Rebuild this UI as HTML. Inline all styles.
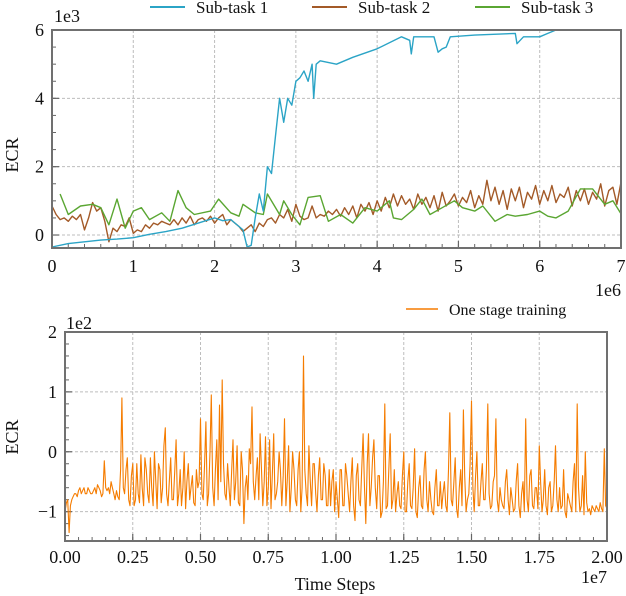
<!DOCTYPE html>
<html><head><meta charset="utf-8"><style>
html,body{margin:0;padding:0;background:#fff;}
svg{display:block;font-family:"Liberation Serif","DejaVu Serif",serif;}
</style></head><body>
<svg id="c" width="626" height="596" viewBox="0 0 626 596" font-family="Liberation Serif, DejaVu Serif, serif"></svg>
<script>
// ---- Top chart data (x in 1e6, y in 1e3) ----
const t1X=[0,0.2,0.4,0.6,0.8,1.0,1.2,1.4,1.6,1.8,2.0,2.1,2.2,2.3,2.35,2.4,2.45,2.5,2.55,2.6,2.65,2.7,2.75,2.8,2.85,2.9,2.95,3.0,3.05,3.1,3.15,3.2,3.22,3.25,3.3,3.5,3.7,4.0,4.3,4.4,4.42,4.45,4.7,4.75,4.8,4.85,4.9,5.2,5.7,5.72,5.8,6.0,6.1,6.2];
const t1Y=[-0.35,-0.25,-0.2,-0.15,-0.12,-0.08,0.02,0.1,0.2,0.35,0.5,0.42,0.45,0.25,0.15,-0.35,-0.3,0.5,1.2,0.7,2.0,1.8,2.9,4.0,3.3,4.0,3.8,4.5,4.6,4.8,4.5,5.0,4.0,5.0,5.1,5.0,5.2,5.45,5.8,5.7,5.3,5.8,5.8,5.35,5.45,5.5,5.8,5.85,5.9,5.6,5.8,5.8,5.9,6.0];
const t2Step=0.05;
const t2Y=[0.85,0.6,0.45,0.5,0.4,0.55,0.45,0.6,0.15,0.5,0.95,0.7,0.8,0.4,-0.2,0.2,0.1,0.3,0.25,0.5,
0.05,0.15,0.1,0.3,0.2,0.35,0.3,0.4,0.35,0.3,0.45,0.3,0.5,0.35,0.55,0.3,0.45,0.5,0.4,0.55,
0.35,0.5,0.6,0.3,0.45,0.35,0.25,0.1,0.2,0.3,0.1,0.35,0.25,0.45,0.5,0.35,0.6,0.5,0.75,0.4,
0.9,0.55,0.45,0.5,0.85,0.5,0.6,0.55,0.7,0.6,0.75,0.55,0.8,0.6,0.85,0.5,0.9,0.7,0.95,0.6,
1.0,0.7,1.1,0.8,1.2,0.85,1.15,0.9,1.05,0.75,1.2,0.9,1.1,0.8,1.15,0.7,1.25,0.85,1.0,1.2,
0.85,1.1,0.95,1.3,0.8,1.15,0.9,1.6,1.0,1.4,0.9,1.3,0.75,1.35,1.0,1.4,0.8,1.25,1.05,1.45,
0.9,1.3,1.0,1.45,0.95,1.2,1.1,1.4,0.85,1.3,1.0,1.35,0.9,1.25,1.05,1.5,0.85,1.3,1.4,0.9,1.55];
const t3X=[0.1,0.2,0.35,0.5,0.6,0.7,0.8,0.9,1.0,1.1,1.2,1.35,1.45,1.55,1.65,1.75,1.95,2.05,2.2,2.3,2.35,2.5,2.6,2.65,2.8,2.85,2.95,3.05,3.15,3.3,3.4,3.55,3.7,3.85,4.0,4.15,4.2,4.3,4.45,4.55,4.65,4.8,4.95,5.05,5.2,5.3,5.45,5.6,5.7,5.85,6.0,6.1,6.2,6.35,6.5,6.65,6.8,6.9,7.0];
const t3Y=[1.2,0.6,0.85,0.9,0.8,0.3,1.05,0.2,0.7,0.8,0.45,0.65,0.4,1.3,0.8,0.6,0.7,1.05,0.65,0.55,0.9,0.65,0.6,1.2,0.6,1.0,0.6,0.3,1.1,1.15,0.4,0.6,0.35,0.8,0.7,1.0,0.5,0.45,0.75,1.05,0.6,0.8,1.0,0.8,0.7,0.85,0.4,0.6,0.55,0.6,0.7,0.55,0.5,0.7,1.35,1.35,0.9,1.0,0.62];
const topXTicks=[0,1,2,3,4,5,6,7];
const topYTicks=[0,2,4,6];
// ---- Bottom chart data (x in 1e7, y in 1e2) ----
const oStep=0.01;
// values at each 0.01e7 step
const oY=[-1.0,-0.8,-0.9,-0.75,-0.7,-0.65,-0.7,-0.6,-0.7,-0.65,
-0.7,-0.6,-0.55,-0.65,-0.7,-0.6,-0.6,-0.5,-0.7,-0.65,
-0.8,0.9,-0.7,-0.1,-0.9,-0.2,-0.8,-0.7,-0.05,-0.9,
-0.3,-0.85,-0.6,0.0,-0.95,-0.3,-0.6,0.4,-0.9,-0.1,
-0.8,0.2,-0.7,-0.9,0.0,-0.5,-0.8,-0.4,-0.9,-0.6,
0.55,-0.8,0.5,-0.7,0.95,-0.9,0.2,0.78,1.2,-0.7,
-0.2,-0.9,0.2,-0.5,-0.85,0.0,-1.2,-0.4,0.05,0.75,
-0.8,-0.1,0.3,-0.9,0.25,-0.6,-0.95,0.3,-0.7,0.0,
-0.9,0.55,-0.5,-1.0,0.0,-0.8,-0.3,-1.0,1.6,-0.7,
0.1,-0.9,-0.2,-1.0,-0.1,-0.8,-0.4,-0.9,-0.9,-0.3,
-0.5,-1.1,-0.3,-0.9,-0.4,-1.0,-0.1,-1.15,-0.2,-0.9,
0.3,-1.2,0.3,-0.6,0.2,-0.95,-0.4,-1.0,0.8,-0.9,
0.3,-0.8,-1.0,-0.5,-0.95,0.0,-1.0,-0.2,-0.95,0.05,
-1.1,-0.4,-0.95,0.0,-1.0,-0.8,-1.05,-0.3,-0.9,-0.95,
-0.5,-1.0,0.65,-0.9,-0.1,-1.1,-0.3,0.7,-1.0,-0.7,
0.85,-1.0,0.0,-0.9,-0.2,-0.8,0.8,-0.95,-0.5,0.55,
-1.0,-0.8,-0.95,-0.3,-1.05,-0.8,-0.95,-0.2,-1.1,-0.5,
0.55,-1.0,-0.3,-0.95,-0.6,0.1,-1.0,-0.3,-1.05,-0.5,
-0.9,0.1,-1.0,-0.95,-0.3,-1.1,-0.8,-1.0,-0.2,0.8,
-1.0,-0.4,0.0,-1.0,-1.05,-0.95,-0.9,-1.0,-0.95,0.05,-0.95];
// values at the half steps (0.005e7 + i*0.01e7)
const oYMid=[-0.85,-1.35,-0.8,-0.7,-0.75,-0.6,-0.65,-0.7,-0.6,-0.7,
-0.65,-0.7,-0.6,-0.75,-0.15,-0.65,-0.7,-0.6,-0.8,-0.75,
-0.3,-0.6,-0.3,-0.8,-0.4,-0.9,-0.2,-0.85,-0.6,-0.1,
-0.7,-0.1,-0.9,-0.5,-0.2,-0.85,0.1,-0.7,-0.5,-0.8,
-0.3,-0.9,-0.3,-0.6,-0.95,-0.2,-0.6,-0.85,-0.3,-0.5,
-0.7,-0.2,-0.9,0.0,-0.6,-0.3,-0.8,-0.5,-0.2,-0.8,
-0.6,-0.3,-0.8,0.1,-0.9,-0.3,-0.6,-0.8,-0.2,-0.5,
-0.4,-0.8,-0.3,-0.5,-0.9,0.2,-0.4,-0.8,-0.5,-0.3,
-0.4,-0.9,0.1,-0.6,-0.3,-0.9,0.0,-0.6,-0.3,-0.9,
-0.5,-0.2,-0.7,-0.4,-0.8,-0.2,-0.9,-0.3,-0.5,-1.0,
-0.8,-0.3,-0.9,-0.2,-0.7,-0.5,-0.9,-0.4,-0.8,-0.3,
-0.6,-0.2,-0.9,-0.1,-0.6,-0.4,-1.1,-0.5,-0.95,-0.3,
-0.95,-0.3,-0.7,-0.9,-0.4,-1.0,-0.5,-0.9,-0.6,-1.0,
-0.6,-0.9,-0.3,-0.8,-0.5,-1.0,-0.6,-0.9,-0.5,-0.7,
-0.9,-0.3,-0.8,-0.5,-0.95,-0.6,-0.9,-0.4,-0.8,-0.2,
-0.6,-0.4,-0.9,-0.5,-0.8,-0.3,-0.7,-0.9,-0.4,-0.8,
-0.6,-0.9,-0.5,-0.8,-0.6,-1.0,-0.5,-0.9,-0.7,-1.0,
-0.8,-0.4,-0.9,-0.6,-0.95,-0.5,-0.8,-0.9,-0.6,-1.0,
-0.5,-0.8,-0.6,-0.9,-1.0,-0.7,-0.9,-0.5,-1.0,-0.6,
-0.9,-1.05,-0.85,-0.95,-0.9,-1.0,-0.95,-0.85,-1.0,-0.9];
const botXTicks=[0,0.25,0.5,0.75,1.0,1.25,1.5,1.75,2.0];
const botXLabels=["0.00","0.25","0.50","0.75","1.00","1.25","1.50","1.75","2.00"];
const botYTicks=[-1,0,1,2];
const botYLabels=["\u22121","0","1","2"];

const NS="http://www.w3.org/2000/svg";
const svg=document.getElementById('c');
function mk(tag,attrs,parent){const e=document.createElementNS(NS,tag);for(const k in attrs)e.setAttribute(k,attrs[k]);(parent||svg).appendChild(e);return e;}

const T={x0:52,x1:621,y0:30,y1:248,xmin:0,xmax:7,ymin:-0.38,ymax:6};
const B={x0:65,x1:607,y0:332,y1:541,xmin:0,xmax:2,ymin:-1.49,ymax:2};
function sx(a,v){return a.x0+(v-a.xmin)/(a.xmax-a.xmin)*(a.x1-a.x0);}
function sy(a,v){return a.y1-(v-a.ymin)/(a.ymax-a.ymin)*(a.y1-a.y0);}

function frame(a,name,xt,yt,xminor,yminor){
  const g=mk('g',{});
  
  
  xt.forEach(v=>{const l=mk('line',{x1:sx(a,v),x2:sx(a,v),y1:a.y0,y2:a.y1,stroke:'#bdbdbd','stroke-width':1,'stroke-dasharray':'3,2'},g);
    
    });
  yt.forEach(v=>{const l=mk('line',{x1:a.x0,x2:a.x1,y1:sy(a,v),y2:sy(a,v),stroke:'#bdbdbd','stroke-width':1,'stroke-dasharray':'3,2'},g);
    
    });
  for(let v=a.xmin;v<=a.xmax+1e-9;v+=xminor){const x=sx(a,v);mk('line',{x1:x,x2:x,y1:a.y1,y2:a.y1-4,stroke:'#666','stroke-width':1},g);}
  xt.forEach(v=>{const x=sx(a,v);mk('line',{x1:x,x2:x,y1:a.y1,y2:a.y1-7,stroke:'#666','stroke-width':1.2},g);});
  let s=Math.ceil(a.ymin/yminor)*yminor;
  for(let v=s;v<=a.ymax+1e-9;v+=yminor){const y=sy(a,v);mk('line',{x1:a.x0,x2:a.x0+4,y1:y,y2:y,stroke:'#666','stroke-width':1},g);}
  yt.forEach(v=>{const y=sy(a,v);mk('line',{x1:a.x0,x2:a.x0+7,y1:y,y2:y,stroke:'#666','stroke-width':1.2},g);});
  return g;
}
function border(a,name){const r=mk('rect',{x:a.x0,y:a.y0,width:a.x1-a.x0,height:a.y1-a.y0,fill:'none',stroke:'#707070','stroke-width':2});
  
  }
function line(a,xs,ys,color,name,w){
  let d='';xs.forEach((x,i)=>{d+=(i?'L':'M')+sx(a,x).toFixed(1)+','+sy(a,ys[i]).toFixed(1);});
  const p=mk('path',{d:d,fill:'none',stroke:color,'stroke-width':w||1.4,'stroke-linejoin':'round'});
  
  
}
function text(x,y,s,anchor,name,extra){const t=mk('text',Object.assign({x:x,y:y,'font-size':18,fill:'#111','text-anchor':anchor||'start'},extra||{}));t.textContent=s;
  
  return t;}

// Top chart
frame(T,'top-chart-grid',topXTicks,topYTicks,0.2,0.5);
line(T,t2Y.map((v,i)=>i*t2Step),t2Y,'#a35a28','sub-task-2-line');
line(T,t3X,t3Y,'#5aa632','sub-task-3-line');
line(T,t1X,t1Y,'#2ba4c6','sub-task-1-line');
border(T,'top-chart-frame');
topXTicks.forEach(v=>text(sx(T,v),272,String(v),'middle','x-tick-label'));
topYTicks.forEach(v=>text(44,sy(T,v)+6,String(v),'end','y-tick-label'));
text(54,22,'1e3','start','y-scale-label');
text(621,296,'1e6','end','x-scale-label');
text(18,155,'ECR','middle','top-y-axis-title',{transform:'rotate(-90 18 155)'});
[['Sub-task 1','#2ba4c6',150],['Sub-task 2','#a35a28',312],['Sub-task 3','#5aa632',475]].forEach(l=>{
  const g=mk('g',{});
  
  
  mk('line',{x1:l[2],x2:l[2]+35,y1:7,y2:7,stroke:l[1],'stroke-width':2},g);
  const t=mk('text',{x:l[2]+46,y:13,'font-size':17,fill:'#111'},g);t.textContent=l[0];
});

// Bottom chart
frame(B,'bottom-chart-grid',botXTicks,botYTicks,0.05,0.2);
const ox=[],oy=[];
oY.forEach((v,i)=>{ox.push(i*oStep);oy.push(v);if(i<oYMid.length){ox.push((i+0.5)*oStep);oy.push(oYMid[i]);}});
line(B,ox,oy,'#f57c00','one-stage-training-line',1.1);
border(B,'bottom-chart-frame');
botXTicks.forEach((v,i)=>text(sx(B,v),563,botXLabels[i],'middle','x-tick-label'));
botYTicks.forEach((v,i)=>text(57,sy(B,v)+6,botYLabels[i],'end','y-tick-label'));
text(66,329,'1e2','start','y-scale-label');
text(607,583,'1e7','end','x-scale-label');
text(335,590,'Time Steps','middle','x-axis-title');
text(18,437,'ECR','middle','bottom-y-axis-title',{transform:'rotate(-90 18 437)'});
(function(){const g=mk('g',{});
  
  
  mk('line',{x1:406,x2:438,y1:309,y2:309,stroke:'#f57c00','stroke-width':1.5},g);
  const t=mk('text',{x:449,y:315,'font-size':16,fill:'#111'},g);t.textContent='One stage training';})();
</script>
</body></html>
